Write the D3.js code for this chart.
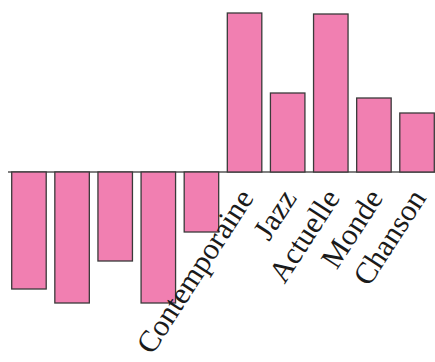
<!DOCTYPE html>
<html>
<head>
<meta charset="utf-8">
<script src="https://cdn.jsdelivr.net/npm/d3@7"></script>
<style>
  body { margin: 0; background: #fff; }
</style>
</head>
<body>
<div id="chart"></div>
<script>
var categories = ["a1", "a2", "a3", "a4", "a5", "Contemporaine", "Jazz", "Actuelle", "Monde", "Chanson"];
var values = [-11.7, -13.1, -8.9, -13.1, -6.0, 15.9, 7.9, 15.8, 7.4, 5.9];
var labels = ["", "", "", "", "", "Contemporaine", "Jazz", "Actuelle", "Monde", "Chanson"];

var width = 435,
    height = 362;

var x = d3.scaleBand()
    .domain(categories)
    .range([7.4, 438.6])
    .paddingInner(.2)
    .paddingOuter(.1);

var y = d3.scaleLinear()
    .domain([-19, 17.2])
    .range([height, 0]);

var svg = d3.select("#chart").append("svg")
    .attr("width", width)
    .attr("height", height);

// baseline
svg.append("line")
    .attr("x1", 8)
    .attr("x2", width)
    .attr("y1", y(0))
    .attr("y2", y(0))
    .attr("stroke", "#808080")
    .attr("stroke-width", 2);

svg.selectAll(".bar")
    .data(values)
    .enter()
    .append("rect")
    .attr("class", "bar")
    .attr("x", function (d, i) { return x(categories[i]); })
    .attr("width", x.bandwidth())
    .attr("y", function (d) { return y(Math.max(0, d)); })
    .attr("height", function (d) { return Math.abs(y(d) - y(0)); })
    .attr("fill", "#f17fb1")
    .attr("stroke", "#3a3a3a")
    .attr("stroke-width", 1.3);

svg.selectAll(".label")
    .data(labels)
    .enter()
    .append("text")
    .attr("class", "label")
    .attr("transform", function (d, i) {
        var cx = x(categories[i]) + x.bandwidth() / 2 + 10;
        return "translate(" + cx + "," + (y(0) + 26) + ") rotate(-57)";
    })
    .attr("text-anchor", "end")
    .attr("font-family", "Liberation Serif, Times New Roman, serif")
    .attr("font-size", 30.5)
    .attr("fill", "#1a1a1a")
    .text(function (d) { return d; });
</script>
</body>
</html>
